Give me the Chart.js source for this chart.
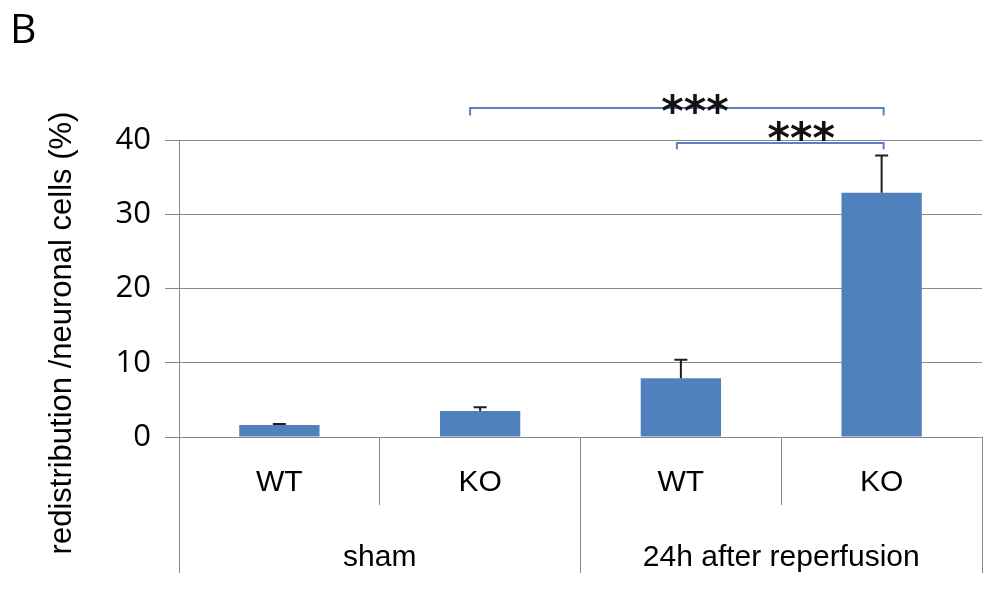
<!DOCTYPE html>
<html>
<head>
<meta charset="utf-8">
<script src="https://cdn.jsdelivr.net/npm/chart.js@4.4.1/dist/chart.umd.min.js"></script>
<style>
  html,body{margin:0;padding:0;background:#fff}
  #wrap{width:990px;height:589px}
</style>
</head>
<body>
<div id="wrap"><canvas id="chart" width="990" height="589"></canvas></div>
<script>
/* ---- data ---- */
const groupLabels=['sham','24h after reperfusion'];
const genotypeLabels=['WT','KO','WT','KO'];
const meanValues=[1.6,3.5,7.9,32.9];
const errorTop=[1.75,4.0,10.4,37.9];

/* significance brackets (category index / y value) */
const bracketFrom=[0.95,1.98];
const bracketTo=[3.01,3.01];
const bracketLevel=[44.3,39.6];
const bracketDrop=[1.0,0.85];
const starAt=[2.07,2.6];
const starLevel=[44.9,41.2];
const starText=['***','***'];

const GRID='#8a8a8a';
const BAR='#4f81bd';

/* error bars + brackets */
const annotate={
  id:'annotate',
  afterDatasetsDraw(chart){
    const c=chart.ctx,x=chart.scales.x,y=chart.scales.y;
    const meta=chart.getDatasetMeta(0);
    c.save();
    c.strokeStyle='#1e1e1e';c.lineWidth=2;
    meta.data.forEach((bar,i)=>{
      const top=y.getPixelForValue(errorTop[i]);
      c.beginPath();
      c.moveTo(bar.x,bar.y);c.lineTo(bar.x,top);
      c.moveTo(bar.x-6.5,top);c.lineTo(bar.x+6.5,top);
      c.stroke();
    });
    c.strokeStyle='#5b7fbf';c.lineWidth=2;
    bracketFrom.forEach((f,i)=>{
      const x1=x.getPixelForValue(f),x2=x.getPixelForValue(bracketTo[i]);
      const yl=y.getPixelForValue(bracketLevel[i]);
      const yd=y.getPixelForValue(bracketLevel[i]-bracketDrop[i]);
      c.beginPath();
      c.moveTo(x1,yd);c.lineTo(x1,yl);c.lineTo(x2,yl);c.lineTo(x2,yd);
      c.stroke();
    });
    c.fillStyle='#111';
    c.font='bold 43px "DejaVu Sans"';
    c.textAlign='center';c.textBaseline='alphabetic';
    starText.forEach((t,i)=>{
      c.fillText(t,x.getPixelForValue(starAt[i]),y.getPixelForValue(starLevel[i])+22);
    });
    c.restore();
  }
};

/* panel letter + y title */
const labels={
  id:'labels',
  afterDraw(chart){
    const c=chart.ctx;
    c.save();
    c.fillStyle='#000';
    c.font='41px "Open Sans"';
    c.textAlign='left';c.textBaseline='alphabetic';
    c.fillText('B',10,43);
    c.translate(62,333);c.rotate(-Math.PI/2);
    c.font='31px "Liberation Sans"';
    c.textAlign='center';c.textBaseline='middle';
    c.fillText('redistribution /neuronal cells (%)',0,0);
    c.restore();
  }
};

new Chart(document.getElementById('chart'),{
  type:'bar',
  data:{
    labels:genotypeLabels,
    datasets:[{data:meanValues,backgroundColor:BAR,borderWidth:0,barPercentage:0.4,categoryPercentage:1}]
  },
  plugins:[annotate,labels],
  options:{
    responsive:false,animation:false,
    layout:{padding:{top:140,right:8,bottom:16,left:0}},
    plugins:{legend:{display:false},tooltip:{enabled:false}},
    scales:{
      x:{
        position:'bottom',
        grid:{offset:true,drawOnChartArea:false,tickLength:68,color:GRID},
        border:{color:GRID},
        ticks:{padding:-40,color:'#000',font:{family:'Liberation Sans',size:30}},
        afterFit(s){s.height=68;}
      },
      x2:{
        type:'category',labels:groupLabels,position:'bottom',
        grid:{offset:true,drawOnChartArea:false,tickLength:68,color:GRID},
        border:{display:false},
        ticks:{padding:-33,color:'#000',font:{family:'Liberation Sans',size:30}},
        afterFit(s){s.height=68;}
      },
      y:{
        min:0,max:40,
        ticks:{stepSize:10,padding:14,color:'#000',font:{family:'Open Sans',size:31}},
        grid:{color:GRID,tickLength:14},
        border:{color:GRID},
        afterFit(s){s.width=179;}
      }
    }
  }
});
</script>
</body>
</html>
